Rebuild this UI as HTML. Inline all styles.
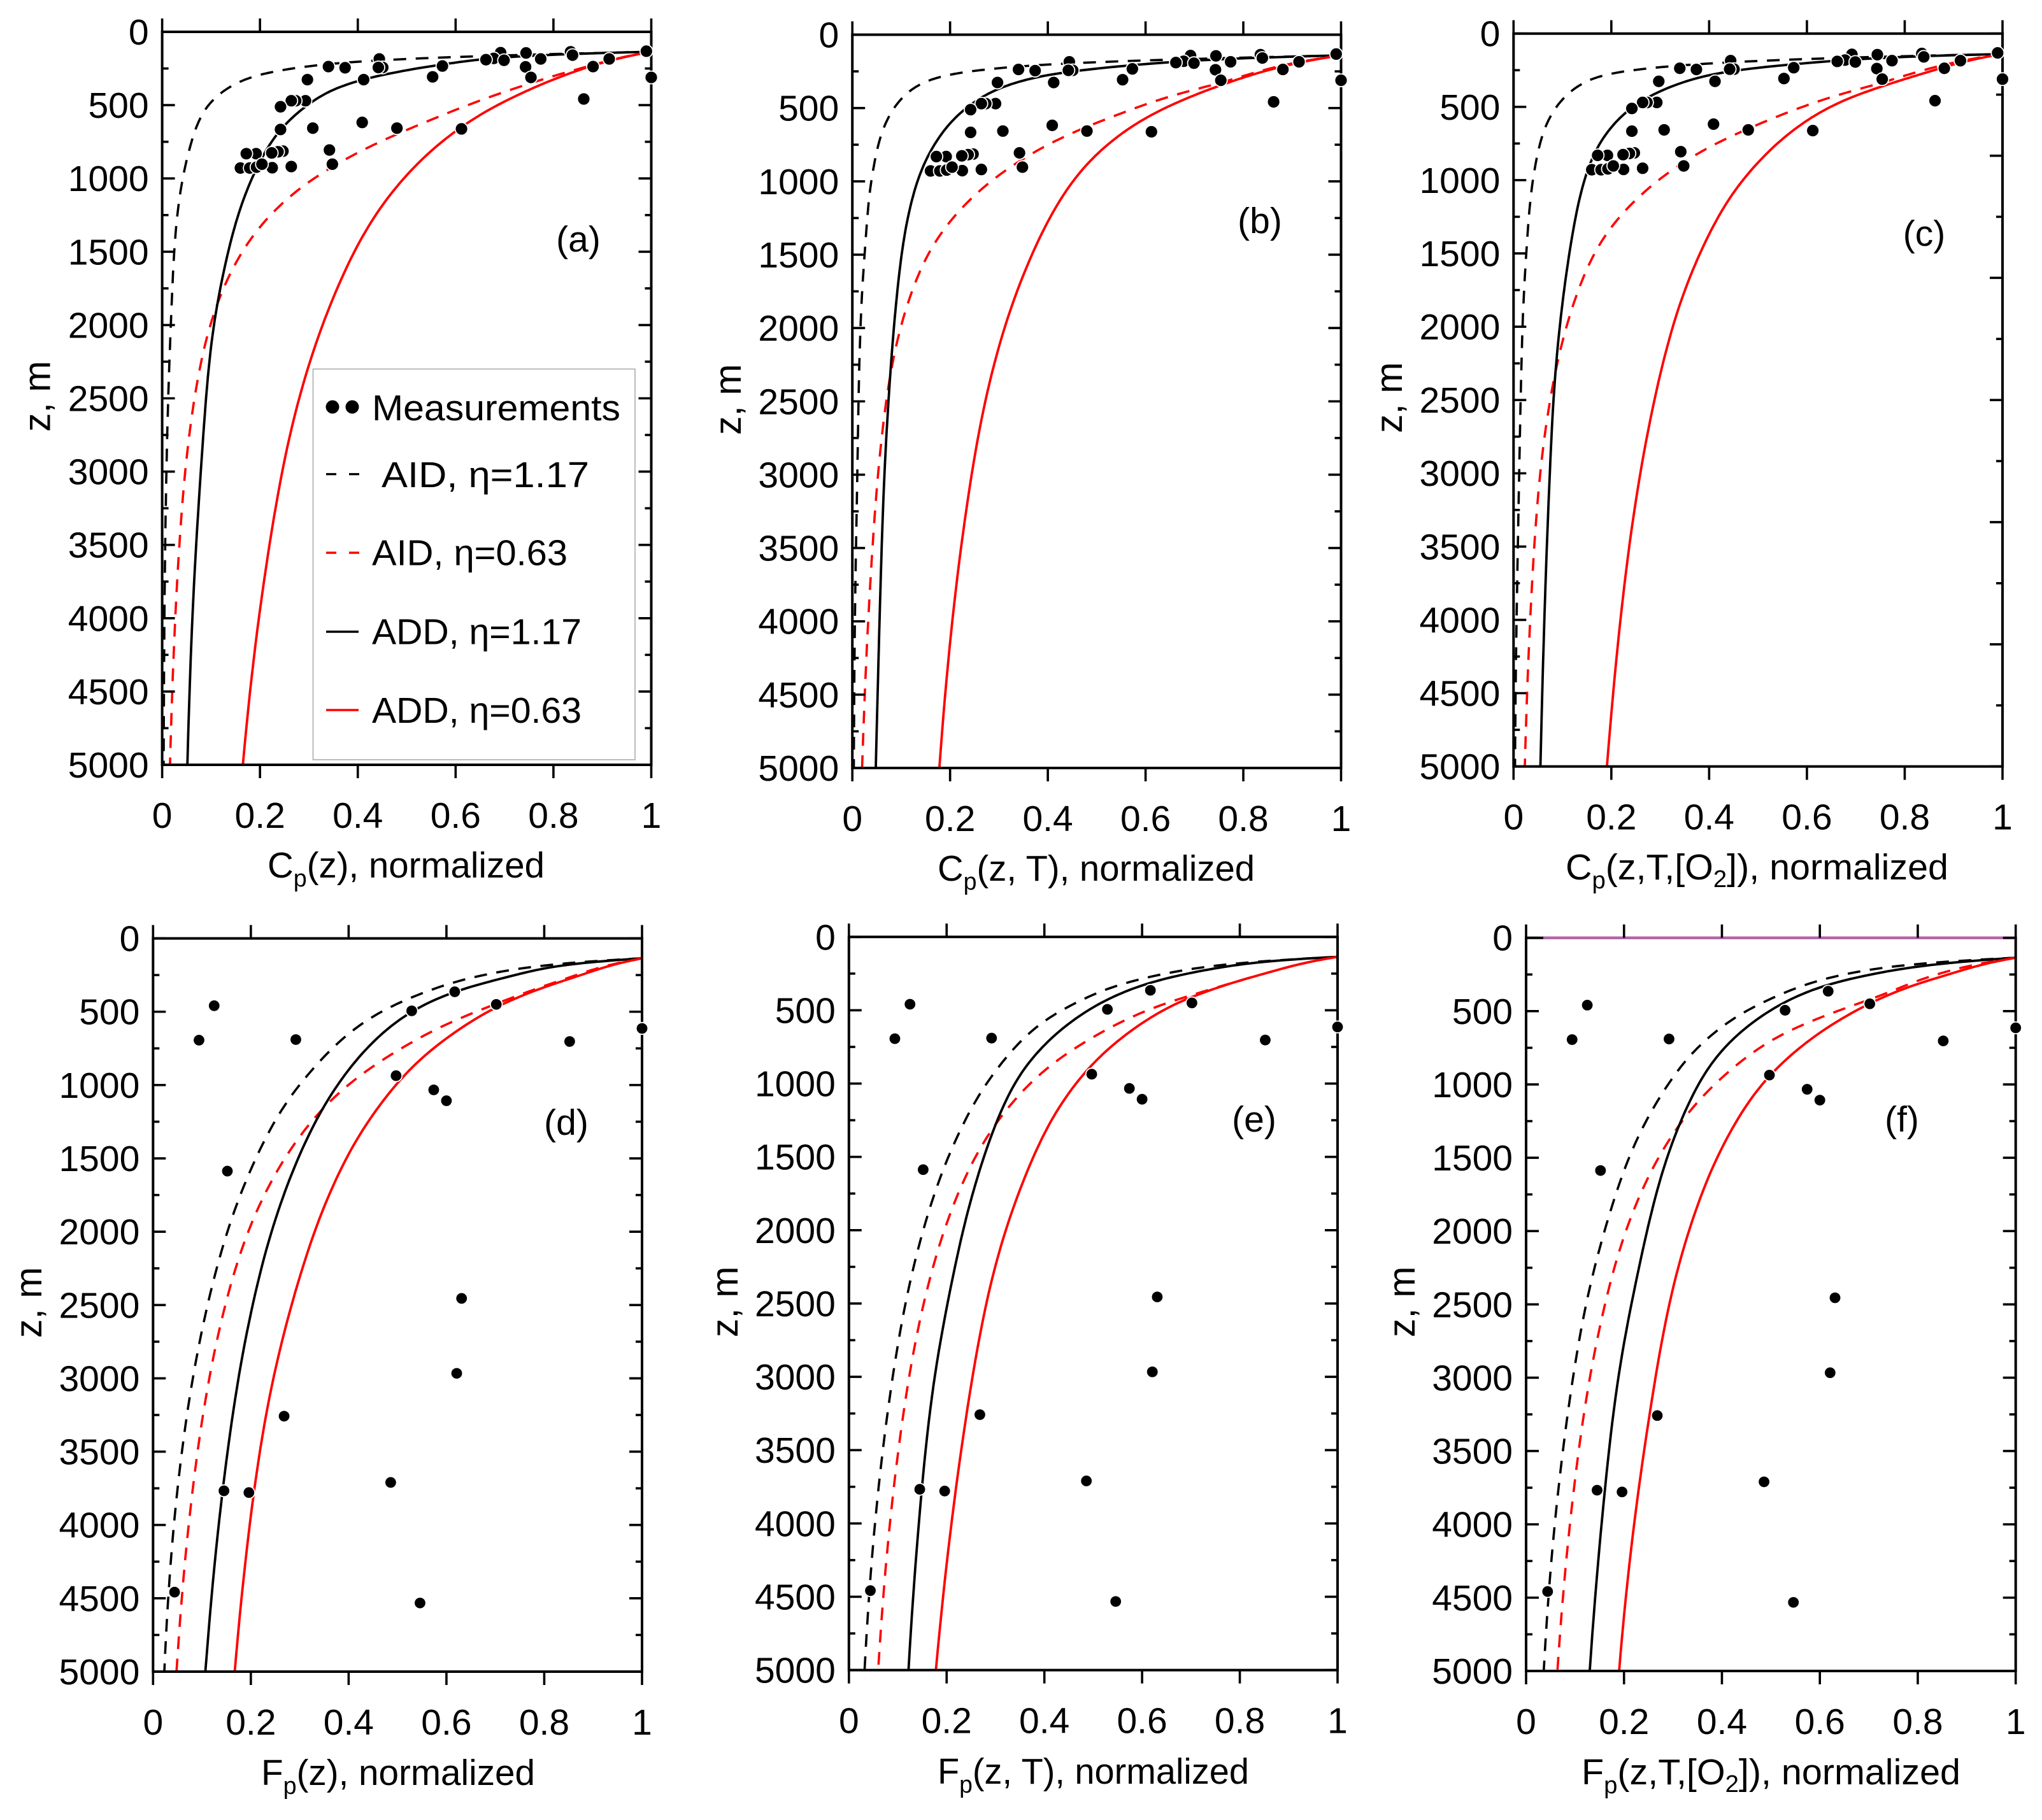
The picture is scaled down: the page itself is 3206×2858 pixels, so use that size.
<!DOCTYPE html>
<html lang="en">
<head>
<meta charset="utf-8">
<title>Normalized particle concentration and flux profiles</title>
<style>
html,body{margin:0;padding:0;background:#fff;}
svg{display:block;}
text{font-family:"Liberation Sans","DejaVu Sans",sans-serif;fill:#000;}
</style>
</head>
<body>
<svg id="chart" xmlns="http://www.w3.org/2000/svg" width="3206" height="2858" viewBox="0 0 3206 2858">
<rect width="3206" height="2858" fill="#fff"/>
<g id="plots"></g>

<g font-size="57">
<text x="420" y="1378" textLength="435" lengthAdjust="spacingAndGlyphs">C<tspan dy="14" font-size="38">p</tspan><tspan dy="-14">(z), normalized</tspan></text>
<text x="1472" y="1383" textLength="498" lengthAdjust="spacingAndGlyphs">C<tspan dy="14" font-size="38">p</tspan><tspan dy="-14">(z, T), normalized</tspan></text>
<text x="2458" y="1381" textLength="601" lengthAdjust="spacingAndGlyphs">C<tspan dy="14" font-size="38">p</tspan><tspan dy="-14">(z,T,[O</tspan><tspan dy="12" font-size="38">2</tspan><tspan dy="-12">]), normalized</tspan></text>
<text x="410" y="2803" textLength="430" lengthAdjust="spacingAndGlyphs">F<tspan dy="14" font-size="38">p</tspan><tspan dy="-14">(z), normalized</tspan></text>
<text x="1472" y="2801" textLength="489" lengthAdjust="spacingAndGlyphs">F<tspan dy="14" font-size="38">p</tspan><tspan dy="-14">(z, T), normalized</tspan></text>
<text x="2483" y="2802" textLength="595" lengthAdjust="spacingAndGlyphs">F<tspan dy="14" font-size="38">p</tspan><tspan dy="-14">(z,T,[O</tspan><tspan dy="12" font-size="38">2</tspan><tspan dy="-12">]), normalized</tspan></text>
</g>

<g font-size="59">
<text transform="translate(78.5 678) rotate(-90)">z, m</text>
<text transform="translate(1163 683) rotate(-90)">z, m</text>
<text transform="translate(2201 680) rotate(-90)">z, m</text>
<text transform="translate(65 2101) rotate(-90)">z, m</text>
<text transform="translate(1158 2100) rotate(-90)">z, m</text>
<text transform="translate(2221 2100) rotate(-90)">z, m</text>
</g>

<g font-size="57" text-anchor="middle">
<text x="908" y="395">(a)</text>
<text x="1978" y="366">(b)</text>
<text x="3021" y="386">(c)</text>
<text x="889" y="1782">(d)</text>
<text x="1969" y="1777">(e)</text>
<text x="2986" y="1777">(f)</text>
</g>

<g>
<rect x="491.5" y="579.5" width="505.5" height="613.5" fill="#fff" stroke="#b4b4b4" stroke-width="1.8"/>
<g>
<circle cx="522" cy="639" r="10.5" fill="#000"/>
<circle cx="553" cy="639" r="10.5" fill="#000"/>
<text x="584" y="660" font-size="57" textLength="390" lengthAdjust="spacingAndGlyphs">Measurements</text>
</g>
<g>
<line x1="512" x2="565" y1="744.6" y2="744.6" stroke="#000" stroke-width="3.4" stroke-dasharray="16 20"/>
<text x="599" y="765" font-size="57" textLength="326" lengthAdjust="spacingAndGlyphs">AID, η=1.17</text>
</g>
<g>
<line x1="512" x2="565" y1="868" y2="868" stroke="#f00" stroke-width="3.4" stroke-dasharray="16 20"/>
<text x="584" y="887.5" font-size="57" textLength="307" lengthAdjust="spacingAndGlyphs">AID, η=0.63</text>
</g>
<g>
<line x1="512" x2="563" y1="992" y2="992" stroke="#000" stroke-width="3.4"/>
<text x="584" y="1011.6" font-size="57" textLength="329" lengthAdjust="spacingAndGlyphs">ADD, η=1.17</text>
</g>
<g>
<line x1="512" x2="563" y1="1115" y2="1115" stroke="#f00" stroke-width="3.4"/>
<text x="584" y="1135" font-size="57" textLength="329" lengthAdjust="spacingAndGlyphs">ADD, η=0.63</text>
</g>
</g>
</svg>

<script>
// ---------- axis tick data ----------
const depthTicks = [0,500,1000,1500,2000,2500,3000,3500,4000,4500,5000];
const depthTickLabels = ["0","500","1000","1500","2000","2500","3000","3500","4000","4500","5000"];
const normTicks = [0,0.2,0.4,0.6,0.8,1];
const normTickLabels = ["0","0.2","0.4","0.6","0.8","1"];

// ---------- measurements: depth (m) and normalized value ----------
const concentrationDepth = [132,142,181,190,194,144,239,185,311,136,159,237,185,311,458,233,307,185,243,243,326,245,237,326,470,470,470,511,666,657,618,657,662,806,903,919,927,814,818,826,831,831,929,929,923,903];
const concentrationValue = [.99,.692,.678,.662,.699,.744,.743,.774,.754,.835,.839,.881,.914,1,.862,.573,.553,.444,.451,.442,.412,.374,.34,.297,.293,.273,.264,.242,.242,.308,.409,.48,.612,.342,.348,.264,.225,.247,.237,.224,.192,.172,.16,.179,.193,.204];
const fluxDepth = [459,694,690,494,364,450,614,703,936,1033,1107,1587,2455,2966,3258,3767,3779,3710,4458,4532];
const fluxValue = [.125,.094,.292,.529,.617,.702,1,.852,.497,.574,.6,.152,.631,.621,.268,.145,.196,.486,.044,.546];

// ---------- model curves as [depth, normalized value] ----------
const a_aid117 = [[136,1],[171,.646],[190,.44],[240,.29],[303,.184],[381,.137],[463,.104],[590,.077],[794,.057],[1008,.042],[1338,.028],[1728,.021],[2117,.017],[2660,.011],[3000,.009],[4000,.0045],[5000,.003]];
const a_aid063 = [[136,1],[250,.86],[366,.744],[479,.646],[599,.557],[712,.477],[803,.415],[969,.331],[1066,.282],[1173,.246],[1300,.211],[1416,.18],[1562,.153],[1728,.131],[1864,.111],[2039,.095],[2214,.082],[2370,.073],[2545,.064],[2798,.055],[3000,.046],[3500,.036],[4000,.027],[4500,.021],[5000,.016]];
const a_add117 = [[136,1],[161,.735],[181,.662],[226,.573],[327,.41],[385,.353],[521,.29],[667,.242],[988,.186],[1436,.14],[1805,.117],[2000,.104],[2660,.086],[3000,.08],[3500,.07],[4000,.061],[4500,.056],[5000,.0516]];
const a_add063 = [[136,1],[200,.913],[298,.824],[424,.735],[541,.664],[658,.61],[794,.557],[969,.504],[1105,.468],[1319,.424],[1533,.388],[1805,.353],[2058,.322],[2331,.295],[2603,.273],[2833,.255],[3000,.244],[3500,.222],[4000,.197],[4500,.18],[5000,.165]];

const b_aid117 = [[141,1],[174,.668],[186,.472],[219,.339],[248,.241],[283,.179],[345,.134],[442,.099],[578,.072],[733,.054],[907,.044],[1081,.035],[1314,.029],[1508,.026],[1740,.02],[1953,.017],[2283,.014],[2787,.011],[3000,.011],[3500,.008],[4000,.005],[5000,.003]];
const b_aid063 = [[141,1],[238,.846],[335,.757],[384,.69],[481,.597],[578,.526],[665,.455],[733,.41],[826,.366],[907,.321],[1004,.286],[1111,.246],[1227,.214],[1372,.179],[1508,.152],[1643,.134],[1818,.117],[1953,.103],[2109,.09],[2244,.081],[2477,.07],[2748,.061],[3000,.052],[3500,.042],[4000,.033],[4500,.026],[5000,.02]];
const b_add117 = [[141,1],[165,.75],[182,.66],[213,.573],[248,.446],[297,.366],[374,.294],[481,.241],[616,.197],[791,.161],[984,.134],[1198,.117],[1430,.103],[1702,.094],[1992,.085],[2360,.077],[2729,.07],[3000,.065],[3500,.06],[4000,.056],[4500,.052],[5000,.048]];
const b_add063 = [[141,1],[248,.846],[345,.757],[461,.668],[558,.606],[694,.544],[849,.49],[1023,.446],[1217,.41],[1450,.375],[1663,.348],[1857,.326],[2089,.303],[2380,.281],[2632,.263],[2802,.253],[3000,.245],[3500,.223],[4000,.204],[4500,.19],[5000,.178]];

const c_aid117 = [[140,1],[169,.665],[189,.469],[222,.336],[253,.229],[286,.176],[350,.136],[451,.1],[607,.069],[763,.053],[938,.043],[1132,.034],[1424,.028],[1677,.023],[1911,.019],[2300,.016],[2767,.013],[3000,.012],[3500,.009],[4000,.007],[4500,.004],[5000,.003]];
const c_aid063 = [[140,1],[247,.843],[344,.754],[442,.643],[500,.594],[607,.514],[675,.469],[763,.407],[850,.363],[938,.327],[1035,.283],[1152,.247],[1268,.216],[1405,.18],[1541,.158],[1696,.14],[1852,.123],[2008,.109],[2202,.092],[2358,.083],[2533,.074],[2805,.062],[3000,.053],[3500,.043],[4000,.034],[4500,.028],[5000,.023]];
const c_add117 = [[140,1],[160,.754],[214,.576],[247,.452],[315,.363],[422,.283],[539,.229],[665,.194],[802,.167],[996,.145],[1249,.127],[1521,.114],[1833,.1],[2105,.092],[2377,.083],[2689,.078],[3000,.075],[3500,.068],[4000,.063],[4500,.059],[5000,.055]];
const c_add063 = [[140,1],[272,.843],[364,.754],[471,.665],[588,.603],[724,.549],[899,.496],[1074,.452],[1268,.416],[1521,.38],[1716,.354],[1930,.332],[2202,.309],[2455,.292],[2728,.274],[3000,.26],[3500,.236],[4000,.219],[4500,.204],[5000,.191]];

const d_aid117 = [[136,1],[171,.834],[217,.727],[287,.629],[388,.542],[514,.46],[610,.416],[736,.372],[862,.336],[988,.305],[1114,.274],[1260,.247],[1415,.225],[1560,.203],[1705,.185],[1870,.167],[2035,.149],[2190,.136],[2364,.123],[2519,.112],[2694,.1],[2806,.093],[3000,.083],[3500,.06],[4000,.044],[4500,.031],[5000,.023]];
const d_aid063 = [[136,1],[281,.843],[397,.745],[514,.656],[581,.603],[659,.558],[746,.514],[833,.469],[930,.429],[1027,.389],[1143,.354],[1269,.32],[1395,.292],[1531,.265],[1686,.238],[1841,.216],[1977,.198],[2132,.18],[2267,.167],[2442,.154],[2616,.14],[2791,.129],[3000,.115],[3500,.092],[4000,.074],[4500,.059],[5000,.048]];
const d_add117 = [[136,1],[178,.843],[281,.709],[364,.617],[500,.529],[678,.46],[911,.398],[1124,.354],[1318,.323],[1512,.296],[1783,.265],[1996,.243],[2267,.22],[2539,.203],[2806,.185],[3000,.174],[3500,.154],[4000,.134],[4500,.12],[5000,.107]];
const d_add063 = [[136,1],[262,.869],[349,.789],[475,.7],[640,.62],[795,.558],[969,.505],[1163,.46],[1376,.416],[1609,.38],[1802,.354],[2035,.327],[2267,.305],[2519,.283],[2752,.265],[3000,.245],[3500,.218],[4000,.198],[4500,.181],[5000,.167]];

const e_aid117 = [[136,1],[188,.764],[233,.675],[297,.586],[349,.533],[475,.453],[572,.399],[678,.364],[795,.328],[921,.302],[1056,.27],[1192,.248],[1347,.226],[1502,.204],[1657,.186],[1831,.168],[1986,.155],[2200,.137],[2374,.124],[2529,.115],[2684,.106],[2816,.099],[3000,.091],[3500,.071],[4000,.054],[4500,.042],[5000,.032]];
const e_aid063 = [[136,1],[252,.853],[359,.746],[407,.693],[465,.64],[523,.595],[591,.551],[669,.511],[766,.462],[843,.426],[940,.391],[1056,.355],[1202,.319],[1337,.288],[1483,.262],[1638,.239],[1773,.222],[1928,.204],[2083,.186],[2258,.173],[2452,.159],[2529,.15],[2723,.139],[2816,.133],[3000,.124],[3500,.102],[4000,.085],[4500,.07],[5000,.06]];
const e_add117 = [[136,1],[165,.853],[233,.72],[316,.613],[407,.542],[523,.48],[659,.426],[804,.382],[959,.346],[1134,.319],[1347,.293],[1618,.266],[1870,.244],[2180,.222],[2490,.204],[2816,.186],[3000,.173],[3500,.157],[4000,.144],[4500,.131],[5000,.122]];
const e_add063 = [[136,1],[252,.853],[359,.746],[446,.675],[562,.613],[688,.56],[814,.515],[940,.48],[1095,.444],[1289,.408],[1541,.373],[1773,.346],[1967,.324],[2219,.302],[2452,.284],[2816,.262],[3000,.255],[3500,.23],[4000,.211],[4500,.193],[5000,.178]];

const f_aid117 = [[136,1],[182,.781],[227,.683],[295,.594],[411,.505],[498,.452],[585,.408],[692,.372],[789,.337],[934,.306],[1089,.274],[1235,.248],[1390,.226],[1516,.208],[1641,.194],[1845,.177],[2019,.159],[2194,.146],[2368,.132],[2523,.122],[2659,.112],[2795,.106],[3000,.098],[3500,.076],[4000,.06],[4500,.046],[5000,.036]];
const f_aid063 = [[136,1],[275,.816],[401,.727],[537,.612],[614,.55],[692,.505],[789,.461],[886,.425],[992,.39],[1109,.354],[1205,.328],[1370,.297],[1496,.27],[1651,.248],[1787,.23],[1961,.208],[2097,.194],[2233,.181],[2368,.172],[2543,.159],[2756,.146],[3000,.13],[3500,.108],[4000,.091],[4500,.075],[5000,.064]];
const f_add117 = [[136,1],[188,.816],[266,.683],[333,.603],[450,.523],[585,.461],[740,.408],[934,.363],[1167,.328],[1380,.301],[1651,.274],[1864,.257],[2136,.239],[2426,.221],[2736,.203],[3000,.186],[3500,.17],[4000,.155],[4500,.141],[5000,.13]];
const f_add063 = [[136,1],[256,.861],[372,.754],[517,.665],[643,.603],[779,.55],[915,.505],[1089,.461],[1283,.425],[1477,.394],[1709,.363],[1922,.341],[2155,.319],[2368,.301],[2562,.288],[2795,.274],[3000,.266],[3500,.242],[4000,.221],[4500,.203],[5000,.19]];

// ---------- layout ----------
const NS = "http://www.w3.org/2000/svg";
const root = document.getElementById("plots");

function shape(parent, tag, attrs) {
  const el = document.createElementNS(NS, tag);
  for (const k in attrs) el.setAttribute(k, attrs[k]);
  parent.appendChild(el);
  return el;
}

// Curves read off the picture carry reading noise. Resample in log-log space
// (where these profiles are nearly straight) and average it out before drawing.
function smoothCurve(nodes) {
  const n = 140, radius = 4, passes = 3;
  const lz = nodes.map(q => Math.log(q[0]));
  const lv = nodes.map(q => Math.log(q[1]));
  const step = (lz[lz.length - 1] - lz[0]) / (n - 1);
  let xs = [];
  const zs = [];
  let j = 0;
  for (let i = 0; i < n; i++) {
    const t = lz[0] + i * step;
    zs.push(t);
    while (j < lz.length - 2 && lz[j + 1] < t) j++;
    const f = (t - lz[j]) / (lz[j + 1] - lz[j]);
    xs.push(lv[j] + f * (lv[j + 1] - lv[j]));
  }
  for (let p = 0; p < passes; p++) {
    const next = xs.slice();
    for (let i = 1; i < n - 1; i++) {
      const k = Math.min(radius, i, n - 1 - i);
      let sum = 0;
      for (let m = -k; m <= k; m++) sum += xs[i + m];
      next[i] = sum / (2 * k + 1);
    }
    xs = next;
  }
  return zs.map((t, i) => [Math.exp(t), Math.exp(xs[i])]);
}

function curvePath(nodes, sx, sy) {
  return smoothCurve(nodes).map((q, i) => (i ? "L" : "M") + sx(q[1]).toFixed(1) + " " + sy(q[0]).toFixed(1)).join("");
}

function drawPanel(p) {
  const sx = v => p.x0 + v * (p.x1 - p.x0);
  const sy = z => p.top + (z / 5000) * (p.bottom - p.top);

  const g = shape(root, "g", {});
  
  

  // curves
  for (const s of [
    {pts: p.aid117, color: "#000", dash: "20 15", w: 3.6, name: "aid-117"},
    {pts: p.aid063, color: "#f00", dash: "20 15", w: 3.6, name: "aid-063"},
    {pts: p.add117, color: "#000", dash: "", w: 3.8, name: "add-117"},
    {pts: p.add063, color: "#f00", dash: "", w: 3.8, name: "add-063"}
  ]) {
    const path = shape(g, "path", {
      d: curvePath(s.pts, sx, sy),
      fill: "none", stroke: s.color, "stroke-width": s.w, "stroke-linejoin": "round"
    });
    if (s.dash) path.setAttribute("stroke-dasharray", s.dash);
    
    
  }

  // frame
  const frame = shape(g, "path", {
    d: "M" + p.x0 + " " + p.top + "H" + p.x1 + "V" + p.bottom + "H" + p.x0 + "Z",
    fill: "none", stroke: "#000", "stroke-width": 4
  });
  
  

  if (p.topLine) {
    const magenta = shape(g, "line", {x1: p.x0 + 27, x2: p.x1, y1: p.top, y2: p.top, stroke: "#b565a7", "stroke-width": 4.4});
    
    
  }

  // x ticks
  normTicks.forEach((v, i) => {
    const x = sx(v);
    const t1 = shape(g, "line", {x1: x, x2: x, y1: p.top - 21, y2: p.top, stroke: "#000", "stroke-width": 3.6});
    
    
    const t2 = shape(g, "line", {x1: x, x2: x, y1: p.bottom, y2: p.bottom + 21, stroke: "#000", "stroke-width": 3.6});
    
    
    const label = shape(g, "text", {x: x, y: p.bottom + 99, "font-size": 57, "text-anchor": "middle"});
    label.textContent = normTickLabels[i];
    
    
  });

  // y ticks
  depthTicks.forEach((z, i) => {
    const y = sy(z);
    const t = shape(g, "line", {x1: p.x0, x2: p.x0 + 20, y1: y, y2: y, stroke: "#000", "stroke-width": 3.6});
    
    
    const label = shape(g, "text", {x: p.x0 - 21, y: y + 20, "font-size": 57, "text-anchor": "end"});
    label.textContent = depthTickLabels[i];
    
    
    if (i < depthTicks.length - 1) {
      const ym = sy((z + depthTicks[i + 1]) / 2);
      const m = shape(g, "line", {x1: p.x0, x2: p.x0 + 10, y1: ym, y2: ym, stroke: "#000", "stroke-width": 3.6});
      
      
    }
  });

  // right ticks
  const rightSteps = p.rightSteps;
  for (let i = 0; i <= rightSteps; i++) {
    const y = p.top + (p.bottom - p.top) * i / rightSteps;
    const len = i % 2 === 0 ? 20 : 10;
    const t = shape(g, "line", {x1: p.x1 - len, x2: p.x1, y1: y, y2: y, stroke: "#000", "stroke-width": 3.6});
    
    
  }

  // measurements
  p.depth.forEach((z, i) => {
    const c = shape(g, "circle", {cx: sx(p.value[i]), cy: sy(z), r: p.r, fill: "#000", stroke: "#fff", "stroke-width": 1.8});
    
    
  });
}

const panels = [
  {id:"a", x0:254.6, x1:1022.5, top:50,     bottom:1201,   rightSteps:20, topLine:false, r:10,  depth:concentrationDepth, value:concentrationValue, aid117:a_aid117, aid063:a_aid063, add117:a_add117, add063:a_add063},
  {id:"b", x0:1338.2,x1:2105.5, top:54.5,   bottom:1206,   rightSteps:20, topLine:false, r:10,  depth:concentrationDepth, value:concentrationValue, aid117:b_aid117, aid063:b_aid063, add117:b_add117, add063:b_add063},
  {id:"c", x0:2376.3,x1:3144,   top:52.7,   bottom:1203.6, rightSteps:12, topLine:false, r:10,  depth:concentrationDepth, value:concentrationValue, aid117:c_aid117, aid063:c_aid063, add117:c_add117, add063:c_add063},
  {id:"d", x0:240.3, x1:1008,   top:1473.6, bottom:2625,   rightSteps:20, topLine:false, r:9.3, depth:fluxDepth, value:fluxValue, aid117:d_aid117, aid063:d_aid063, add117:d_add117, add063:d_add063},
  {id:"e", x0:1332.8,x1:2100,   top:1471.3, bottom:2622.6, rightSteps:20, topLine:false, r:9.3, depth:fluxDepth, value:fluxValue, aid117:e_aid117, aid063:e_aid063, add117:e_add117, add063:e_add063},
  {id:"f", x0:2396,  x1:3164.7, top:1472.7, bottom:2624,   rightSteps:20, topLine:true,  r:9.3, depth:fluxDepth, value:fluxValue, aid117:f_aid117, aid063:f_aid063, add117:f_add117, add063:f_add063}
];
panels.forEach(drawPanel);
</script>
</body>
</html>
